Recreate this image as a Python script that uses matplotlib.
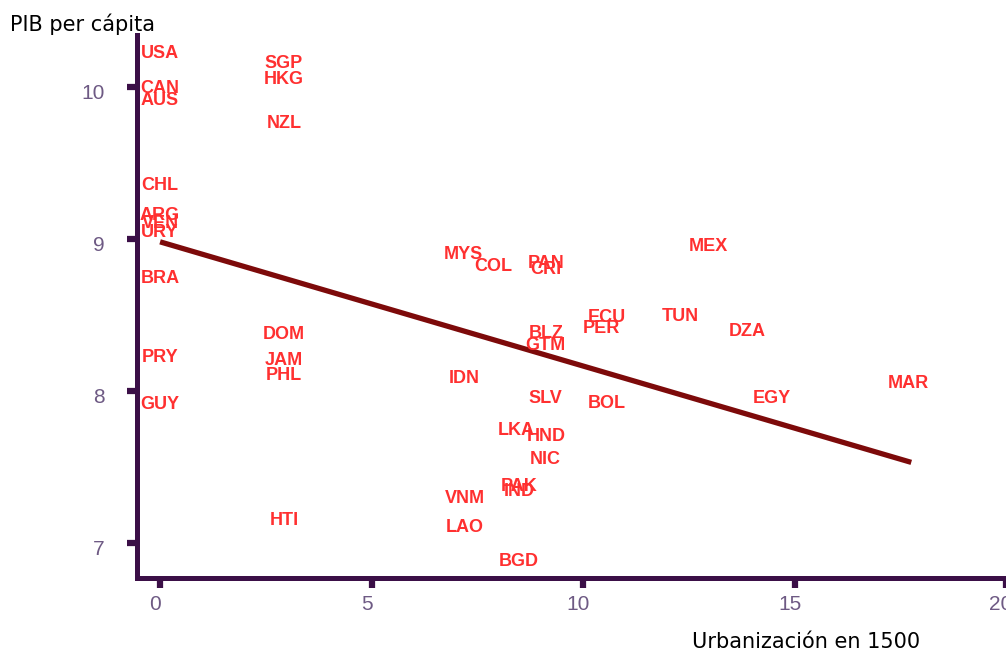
import matplotlib.pyplot as plt
import matplotlib.transforms as mtransforms
import numpy as np

# paises, urbanizacion en 1500 y log PIB per capita
paises = ['USA', 'CAN', 'AUS', 'SGP', 'HKG', 'NZL', 'CHL', 'ARG', 'VEN', 'URY',
          'BRA', 'PRY', 'GUY', 'DOM', 'JAM', 'PHL', 'HTI', 'MYS', 'COL', 'PAN',
          'CRI', 'ECU', 'PER', 'TUN', 'MEX', 'DZA', 'MAR', 'EGY', 'BLZ', 'GTM',
          'IDN', 'SLV', 'BOL', 'LKA', 'HND', 'NIC', 'PAK', 'IND', 'VNM', 'LAO',
          'BGD']
urbanizacion = [0.0, 0.0, 0.0, 2.93, 2.93, 2.93, 0.0, 0.0, 0.0, 0.0,
                0.0, 0.0, 0.0, 2.93, 2.93, 2.93, 2.93, 7.18, 7.87, 9.12,
                9.12, 10.56, 10.43, 12.29, 12.97, 13.88, 17.69, 14.46, 9.12, 9.12,
                7.20, 9.10, 10.56, 8.42, 9.12, 9.10, 8.50, 8.50, 7.20, 7.20,
                8.48]
pib = [10.22, 9.99, 9.91, 10.15, 10.05, 9.76, 9.35, 9.15, 9.10, 9.04,
       8.74, 8.22, 7.91, 8.37, 8.20, 8.10, 7.15, 8.90, 8.82, 8.84,
       8.80, 8.48, 8.41, 8.49, 8.95, 8.39, 8.05, 7.95, 8.38, 8.30,
       8.08, 7.95, 7.92, 7.74, 7.70, 7.55, 7.37, 7.34, 7.29, 7.10,
       6.88]

# recta ajustada
recta_x = [0.0, 17.76]
recta_y = [8.98, 7.53]

x_ticks = [0, 5, 10, 15, 20]
y_ticks = [7, 8, 9, 10]

morado = '#3b0f47'
gris_morado = '#6e5a84'

fig = plt.figure(figsize=(10.06, 6.55), dpi=100)
ax = fig.add_axes([0.136, 0.1176, 0.864, 0.829])

ax.plot(recta_x, recta_y, color='#7d0a0a', linewidth=3.8, solid_capstyle='butt', zorder=2)

for nombre, x, y in zip(paises, urbanizacion, pib):
    ax.text(x, y, nombre, ha='center', va='center', color='#ff3030',
            fontsize=13, fontweight='bold', family='Liberation Sans', zorder=3)

ax.set_xlim(-0.55, 19.61)
ax.set_ylim(6.77, 10.34)
ax.set_xticks(x_ticks)
ax.set_yticks(y_ticks)

for lado in ['top', 'right']:
    ax.spines[lado].set_visible(False)
for lado in ['left', 'bottom']:
    ax.spines[lado].set_color(morado)
    ax.spines[lado].set_linewidth(3.6)

ax.tick_params(axis='both', colors=morado, width=4.5, length=7, direction='out',
               labelcolor=gris_morado, labelsize=15)
ax.tick_params(axis='y', pad=16)
ax.tick_params(axis='x', pad=5)

# las etiquetas de los ticks estan algo desplazadas en el original
dx = mtransforms.ScaledTranslation(-5 / 100, 0, fig.dpi_scale_trans)
dy = mtransforms.ScaledTranslation(0, -5 / 100, fig.dpi_scale_trans)
for lab in ax.get_xticklabels():
    lab.set_family('Liberation Sans')
    lab.set_transform(lab.get_transform() + dx)
for lab in ax.get_yticklabels():
    lab.set_family('Liberation Sans')
    lab.set_transform(lab.get_transform() + dy)

fig.text(0.010, 0.963, 'PIB per cápita', fontsize=15, family='DejaVu Sans',
         ha='left', va='center')
fig.text(0.801, 0.004, 'Urbanización en 1500', fontsize=15, family='DejaVu Sans',
         ha='center', va='bottom')

fig.savefig('out.png', dpi=100)
